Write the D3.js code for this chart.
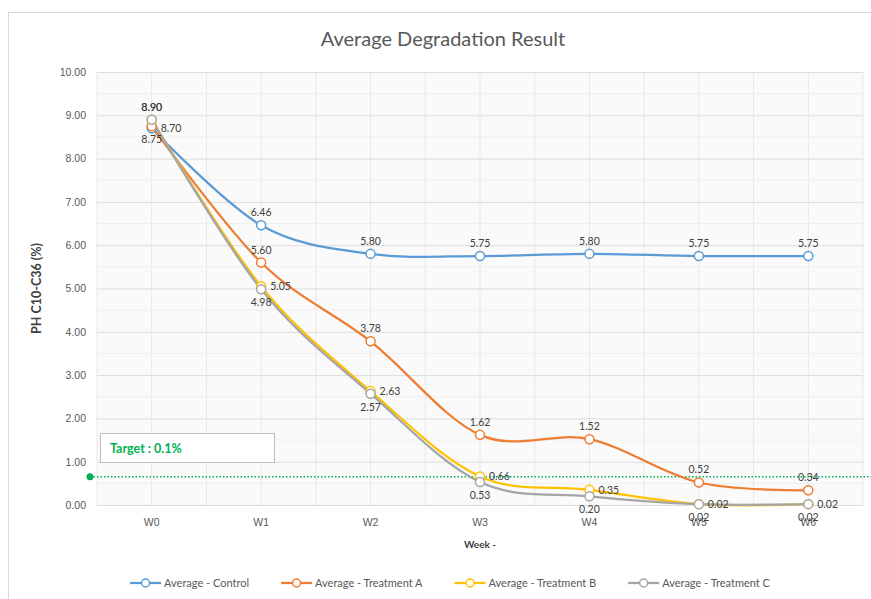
<!DOCTYPE html>
<html>
<head>
<meta charset="utf-8">
<script src="https://cdn.jsdelivr.net/npm/d3@7"></script>
<style>
  body { margin: 0; background: #fff; }
  svg { font-family: Lato, "Open Sans", sans-serif; }
</style>
</head>
<body>
<svg width="871" height="599"></svg>
<script>
const weeks = ["W0", "W1", "W2", "W3", "W4", "W5", "W6"];
const control = [8.70, 6.46, 5.80, 5.75, 5.80, 5.75, 5.75];
const treatmentA = [8.75, 5.60, 3.78, 1.62, 1.52, 0.52, 0.34];
const treatmentB = [8.90, 5.05, 2.63, 0.66, 0.35, 0.02, 0.02];
const treatmentC = [8.90, 4.98, 2.57, 0.53, 0.20, 0.02, 0.02];
const seriesNames = ["Average - Control", "Average - Treatment A", "Average - Treatment B", "Average - Treatment C"];
const yTicks = [0, 1, 2, 3, 4, 5, 6, 7, 8, 9, 10];
const targetValue = 0.65;
const targetText = "Target : 0.1%";

const colors = ["#5b9bd5", "#ed7d31", "#ffc000", "#a5a5a5"];
// where each data label sits relative to its point
const labelPlace = [
  ["right", "top", "top", "top", "top", "top", "top"],
  ["below", "top", "top", "top", "top", "top", "top"],
  ["top", "right", "right", "right", "right", "below", "below"],
  ["top", "below", "below", "below", "below", "right", "right"]
];

const svg = d3.select("svg");
const margin = { left: 97, right: 863, top: 72, bottom: 505 };

const x = d3.scaleBand().domain(weeks).range([margin.left, margin.right]);
const cx = d => x(d) + x.bandwidth() / 2;
const y = d3.scaleLinear().domain([0, 10]).range([margin.bottom, margin.top]);

// chart border
svg.append("rect").attr("x", 8.5).attr("y", 12.5).attr("width", 900).attr("height", 700)
  .attr("fill", "none").attr("stroke", "#d9d9d9");

// plot background
svg.append("rect").attr("x", margin.left).attr("y", margin.top)
  .attr("width", margin.right - margin.left).attr("height", margin.bottom - margin.top)
  .attr("fill", "#fafafa");

// minor horizontal grid
svg.append("g").selectAll("line").data(yTicks.slice(0, -1)).join("line")
  .attr("x1", margin.left).attr("x2", margin.right)
  .attr("y1", d => y(d + 0.5)).attr("y2", d => y(d + 0.5))
  .attr("stroke", "#efefef");

// vertical grid at band edges and centres
const vLines = [];
weeks.forEach(w => { vLines.push(x(w)); vLines.push(cx(w)); });
vLines.push(margin.right);
svg.append("g").selectAll("line").data(vLines).join("line")
  .attr("x1", d => d).attr("x2", d => d)
  .attr("y1", margin.top).attr("y2", margin.bottom)
  .attr("stroke", "#e8e8e8");

// major horizontal grid + y axis
const yAxis = d3.axisLeft(y).tickValues(yTicks).tickFormat(d3.format(".2f"))
  .tickSize(-(margin.right - margin.left)).tickPadding(11);
svg.append("g").attr("transform", `translate(${margin.left},0)`).call(yAxis)
  .call(g => g.select(".domain").remove())
  .call(g => g.selectAll(".tick line").attr("stroke", "#dcdcdc"))
  .call(g => g.selectAll(".tick text").attr("fill", "#595959").attr("font-size", 10.5));

// x axis labels
const xAxis = d3.axisBottom(x).tickSize(0).tickPadding(14);
svg.append("g").attr("transform", `translate(0,${margin.bottom})`).call(xAxis)
  .call(g => g.select(".domain").remove())
  .call(g => g.selectAll(".tick text").attr("fill", "#595959").attr("font-size", 10.5));

// titles
svg.append("text").attr("x", 443).attr("y", 46).attr("text-anchor", "middle")
  .attr("font-size", 20).attr("fill", "#595959").text("Average Degradation Result");
svg.append("text").attr("transform", `translate(41,${(margin.top + margin.bottom) / 2}) rotate(-90)`)
  .attr("text-anchor", "middle").attr("font-size", 12.5).attr("font-weight", "bold")
  .attr("fill", "#404040").text("PH C10-C36 (%)");
svg.append("text").attr("x", (margin.left + margin.right) / 2).attr("y", 548).attr("text-anchor", "middle")
  .attr("font-size", 10).attr("font-weight", "bold").attr("fill", "#404040").text("Week -");

// target line
svg.append("line").attr("x1", 90).attr("x2", 871)
  .attr("y1", y(targetValue)).attr("y2", y(targetValue))
  .attr("stroke", "#00b050").attr("stroke-width", 1.5).attr("stroke-dasharray", "1.5 2");
svg.append("circle").attr("cx", 90).attr("cy", y(targetValue)).attr("r", 3.5).attr("fill", "#00b050");
svg.append("rect").attr("x", 100.5).attr("y", 433.5).attr("width", 174).attr("height", 29)
  .attr("fill", "#fff").attr("stroke", "#bfbfbf");
svg.append("text").attr("x", 110).attr("y", 453).attr("font-size", 12.5).attr("font-weight", "bold")
  .attr("fill", "#00b050").text(targetText);

// series
const allSeries = [control, treatmentA, treatmentB, treatmentC];
const line = d3.line().x((d, i) => cx(weeks[i])).y(d => y(d)).curve(d3.curveCardinal.tension(0));

allSeries.forEach((vals, s) => {
  svg.append("path").datum(vals).attr("d", line)
    .attr("fill", "none").attr("stroke", colors[s]).attr("stroke-width", 2.25);
});

allSeries.forEach((vals, s) => {
  svg.append("g").selectAll("circle").data(vals).join("circle")
    .attr("cx", (d, i) => cx(weeks[i])).attr("cy", d => y(d)).attr("r", 4.5)
    .attr("fill", "#fff").attr("stroke", colors[s]).attr("stroke-width", 1.5);
});

allSeries.forEach((vals, s) => {
  svg.append("g").selectAll("text").data(vals).join("text")
    .attr("font-size", 10.5).attr("fill", "#404040")
    .each(function (d, i) {
      const p = labelPlace[s][i];
      const px = cx(weeks[i]), py = y(d);
      const t = d3.select(this).text(d3.format(".2f")(d));
      if (p === "top") t.attr("x", px).attr("y", py - 9).attr("text-anchor", "middle");
      else if (p === "below") t.attr("x", px).attr("y", py + 17).attr("text-anchor", "middle");
      else t.attr("x", px + 9).attr("y", py + 4).attr("text-anchor", "start");
    });
});

// legend
const legend = svg.append("g");
let lx = 0;
seriesNames.forEach((name, s) => {
  const g = legend.append("g").attr("transform", `translate(${lx},0)`);
  g.append("line").attr("x1", 0).attr("x2", 31).attr("y1", 0).attr("y2", 0)
    .attr("stroke", colors[s]).attr("stroke-width", 2.25);
  g.append("circle").attr("cx", 15.5).attr("cy", 0).attr("r", 4)
    .attr("fill", "#fff").attr("stroke", colors[s]).attr("stroke-width", 1.5);
  const t = g.append("text").attr("x", 34).attr("y", 4).attr("font-size", 11)
    .attr("fill", "#595959").text(name);
  lx += 34 + t.node().getComputedTextLength() + 32;
});
const legendW = lx - 32;
legend.attr("transform", `translate(${450 - legendW / 2},583)`);
</script>
</body>
</html>
